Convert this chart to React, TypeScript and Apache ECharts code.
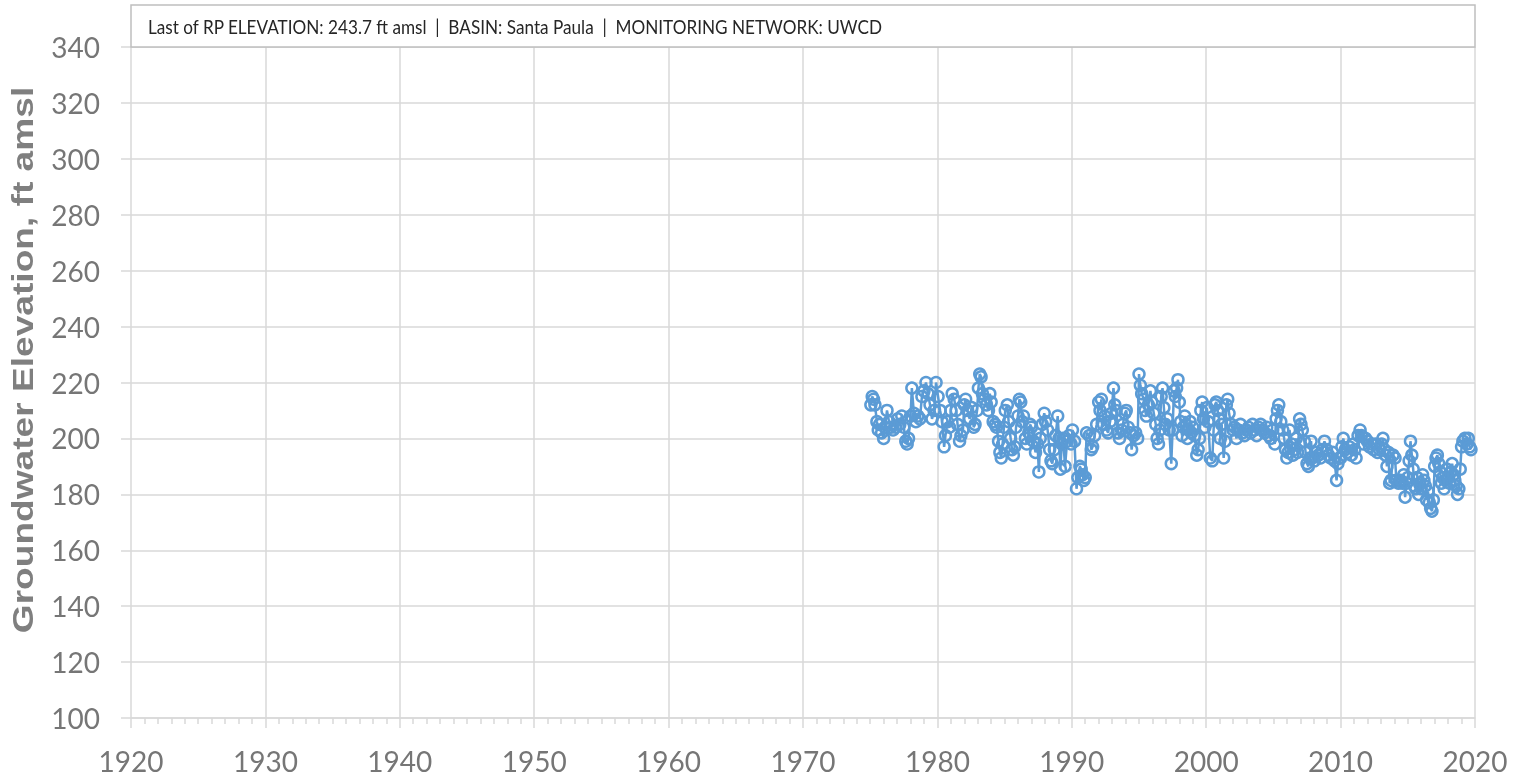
import React, { useEffect, useRef } from "react";
import * as echarts from "echarts";

const xTicks = [1920, 2020];
const yRange = [100, 340];

const dates1970s = [1975.05, 1975.15, 1975.25, 1975.35, 1975.5, 1975.6, 1975.7, 1975.85, 1976.0, 1976.1, 1976.25, 1976.4, 1976.55, 1976.7, 1976.9, 1977.05, 1977.2, 1977.35, 1977.5, 1977.65, 1977.75, 1977.85, 1978.0, 1978.1, 1978.25, 1978.4, 1978.55, 1978.7, 1978.85, 1979.0, 1979.15, 1979.3, 1979.45, 1979.6, 1979.75, 1979.9];
const levels1970s = [212, 215, 214, 212, 206, 203, 205, 202, 200, 204, 210, 206, 204, 203, 204, 207, 205, 208, 204, 199, 198, 200, 208, 218, 209, 206, 208, 207, 215, 217, 220, 216, 212, 207, 210, 220];

const dates1980s = [1980.05, 1980.2, 1980.35, 1980.5, 1980.6, 1980.75, 1980.9, 1981.0, 1981.1, 1981.25, 1981.4, 1981.5, 1981.65, 1981.75, 1981.9, 1982.0, 1982.1, 1982.25, 1982.4, 1982.55, 1982.7, 1982.8, 1982.95, 1983.05, 1983.15, 1983.25, 1983.35, 1983.5, 1983.65, 1983.8, 1983.9, 1984.0, 1984.15, 1984.3, 1984.4, 1984.55, 1984.65, 1984.75, 1984.85, 1984.95, 1985.05, 1985.2, 1985.3, 1985.45, 1985.55, 1985.65, 1985.75, 1985.85, 1986.0, 1986.1, 1986.2, 1986.3, 1986.4, 1986.55, 1986.65, 1986.8, 1986.9, 1987.0, 1987.15, 1987.3, 1987.45, 1987.55, 1987.65, 1987.8, 1987.95, 1988.05, 1988.2, 1988.35, 1988.45, 1988.55, 1988.7, 1988.8, 1988.95, 1989.05, 1989.15, 1989.25, 1989.35, 1989.5, 1989.65, 1989.8, 1989.95];
const levels1980s = [215, 210, 206, 197, 201, 206, 204, 210, 216, 214, 210, 205, 199, 201, 203, 212, 214, 210, 207, 211, 204, 205, 210, 218, 223, 222, 216, 214, 212, 210, 216, 213, 206, 205, 204, 199, 195, 193, 198, 204, 210, 212, 206, 200, 196, 194, 197, 204, 208, 214, 213, 206, 208, 200, 198, 202, 205, 204, 199, 195, 198, 188, 200, 205, 209, 206, 203, 196, 192, 191, 196, 201, 208, 200, 189, 198, 200, 190, 199, 201, 198];

const dates1990s = [1990.05, 1990.2, 1990.35, 1990.45, 1990.6, 1990.7, 1990.8, 1990.9, 1991.0, 1991.1, 1991.3, 1991.45, 1991.55, 1991.7, 1991.85, 1992.0, 1992.1, 1992.2, 1992.35, 1992.45, 1992.6, 1992.7, 1992.85, 1992.95, 1993.1, 1993.2, 1993.3, 1993.45, 1993.55, 1993.7, 1993.8, 1993.95, 1994.05, 1994.2, 1994.35, 1994.45, 1994.6, 1994.75, 1994.9, 1995.0, 1995.1, 1995.2, 1995.35, 1995.45, 1995.55, 1995.7, 1995.85, 1995.95, 1996.1, 1996.25, 1996.35, 1996.45, 1996.55, 1996.65, 1996.75, 1996.85, 1996.95, 1997.1, 1997.25, 1997.4, 1997.5, 1997.6, 1997.7, 1997.8, 1997.9, 1998.0, 1998.1, 1998.2, 1998.3, 1998.4, 1998.5, 1998.6, 1998.7, 1998.8, 1998.9, 1999.0, 1999.15, 1999.3, 1999.4, 1999.5, 1999.6, 1999.7, 1999.8, 1999.9];
const levels1990s = [203, 199, 182, 186, 190, 189, 187, 185, 186, 202, 201, 196, 197, 201, 205, 213, 210, 214, 205, 208, 203, 202, 206, 209, 218, 212, 210, 202, 200, 203, 205, 209, 210, 204, 202, 196, 201, 202, 200, 223, 219, 216, 214, 210, 208, 212, 217, 213, 209, 205, 200, 198, 203, 215, 218, 211, 205, 207, 203, 191, 203, 217, 215, 218, 221, 213, 206, 201, 204, 208, 205, 200, 203, 206, 202, 204, 201, 194, 196, 200, 210, 213, 207, 204];

const dates2000s = [2000.05, 2000.15, 2000.3, 2000.45, 2000.55, 2000.65, 2000.75, 2000.85, 2000.95, 2001.05, 2001.15, 2001.3, 2001.4, 2001.5, 2001.6, 2001.7, 2001.85, 2002.0, 2002.1, 2002.25, 2002.4, 2002.55, 2002.7, 2002.85, 2003.0, 2003.15, 2003.3, 2003.45, 2003.6, 2003.75, 2003.9, 2004.05, 2004.2, 2004.35, 2004.5, 2004.65, 2004.8, 2004.95, 2005.1, 2005.2, 2005.3, 2005.4, 2005.55, 2005.7, 2005.8, 2005.9, 2006.0, 2006.1, 2006.2, 2006.35, 2006.45, 2006.55, 2006.7, 2006.8, 2006.95, 2007.05, 2007.15, 2007.3, 2007.4, 2007.5, 2007.6, 2007.7, 2007.8, 2007.9, 2008.05, 2008.2, 2008.35, 2008.5, 2008.65, 2008.8, 2008.95, 2009.1, 2009.25, 2009.4, 2009.55, 2009.7, 2009.8, 2009.9];
const levels2000s = [211, 206, 193, 192, 203, 212, 213, 210, 207, 200, 205, 193, 199, 212, 214, 209, 205, 203, 204, 200, 203, 205, 202, 201, 203, 204, 202, 205, 203, 201, 204, 205, 203, 202, 204, 201, 200, 203, 198, 207, 210, 212, 206, 203, 200, 196, 193, 195, 203, 198, 194, 196, 200, 195, 207, 205, 203, 199, 195, 191, 190, 193, 199, 193, 192, 195, 194, 193, 196, 199, 196, 194, 193, 195, 192, 185, 191, 193];

const dates2010s = [2010.0, 2010.1, 2010.2, 2010.35, 2010.5, 2010.65, 2010.8, 2010.95, 2011.05, 2011.15, 2011.3, 2011.45, 2011.55, 2011.7, 2011.85, 2012.0, 2012.15, 2012.3, 2012.45, 2012.6, 2012.75, 2012.9, 2013.05, 2013.15, 2013.25, 2013.35, 2013.45, 2013.55, 2013.65, 2013.75, 2013.9, 2014.05, 2014.15, 2014.3, 2014.45, 2014.6, 2014.7, 2014.8, 2014.9, 2015.0, 2015.1, 2015.2, 2015.3, 2015.4, 2015.5, 2015.6, 2015.7, 2015.8, 2015.9, 2016.0, 2016.1, 2016.2, 2016.3, 2016.4, 2016.5, 2016.6, 2016.7, 2016.8, 2016.9, 2017.0, 2017.1, 2017.2, 2017.3, 2017.4, 2017.5, 2017.6, 2017.7, 2017.8, 2017.9, 2018.0, 2018.1, 2018.2, 2018.3, 2018.4, 2018.5, 2018.6, 2018.7, 2018.8, 2018.9, 2019.0, 2019.1, 2019.25, 2019.4, 2019.5, 2019.6, 2019.7];
const levels2010s = [193, 197, 200, 196, 195, 197, 194, 198, 196, 193, 201, 203, 201, 198, 200, 199, 197, 198, 196, 198, 195, 196, 198, 200, 196, 194, 190, 195, 184, 185, 194, 193, 185, 184, 185, 184, 187, 179, 184, 186, 192, 199, 194, 189, 183, 182, 186, 180, 184, 182, 187, 185, 183, 178, 181, 177, 175, 174, 178, 190, 193, 194, 191, 188, 184, 186, 182, 185, 189, 186, 184, 188, 191, 187, 185, 183, 180, 182, 189, 197, 199, 200, 198, 200, 197, 196];

const annotation = "Last of RP ELEVATION: 243.7 ft amsl  |  BASIN: Santa Paula  |  MONITORING NETWORK: UWCD";
const yAxisTitle = "Groundwater Elevation, ft amsl";

export default function App() {
  const ref = useRef<HTMLDivElement>(null);
  useEffect(() => {
    if (!ref.current) return;
    const chart = echarts.init(ref.current, undefined, { renderer: "svg" });
    const dates = [...dates1970s, ...dates1980s, ...dates1990s, ...dates2000s, ...dates2010s];
    const levels = [...levels1970s, ...levels1980s, ...levels1990s, ...levels2000s, ...levels2010s];
    const data = dates.map((d, i) => [d, levels[i]]);
    const blue = "#5b9bd5";
    const grid = "#d9d9d9";
    chart.setOption({
      animation: false,
      grid: { left: 131, right: 53, top: 47, bottom: 63, containLabel: false },
      xAxis: {
        type: "value",
        min: xTicks[0],
        max: xTicks[1],
        interval: 10,
        axisLine: { show: true, onZero: false, lineStyle: { color: grid, width: 1.5 } },
        axisTick: { show: true, inside: false, length: 10, lineStyle: { color: grid, width: 1.5 } },
        minorTick: { show: true, splitNumber: 10, length: 6, lineStyle: { color: grid, width: 1.5 } },
        splitLine: { show: true, lineStyle: { color: grid, width: 1.5 } },
        axisLabel: {
          color: "#767676",
          fontFamily: "Lato",
          fontSize: 28,
          margin: 29,
          formatter: (v: number) => String(v),
        },
      },
      yAxis: {
        type: "value",
        min: yRange[0],
        max: yRange[1],
        interval: 20,
        axisLine: { show: false },
        axisTick: { show: true, inside: false, length: 10, lineStyle: { color: grid, width: 1.5 } },
        splitLine: { show: true, lineStyle: { color: grid, width: 1.5 } },
        axisLabel: { color: "#767676", fontFamily: "Lato", fontSize: 28, margin: 31 },
      },
      graphic: [
        {
          type: "rect",
          shape: { x: 131, y: 5, width: 1344, height: 42 },
          style: { fill: "#ffffff", stroke: "#bfbfbf", lineWidth: 1.5 },
          z: 10,
        },
        {
          type: "text",
          x: 148,
          y: 27,
          z: 11,
          scaleX: 0.88,
          style: {
            text: annotation,
            fill: "#262626",
            font: "19.5px Lato",
            textAlign: "left",
            textVerticalAlign: "middle",
          },
        },
        {
          type: "text",
          x: 23,
          y: 360,
          rotation: Math.PI / 2,
          scaleX: 1.28,
          style: {
            text: yAxisTitle,
            fill: "#7f7f7f",
            font: "bold 29px 'Liberation Sans'",
            textAlign: "center",
            textVerticalAlign: "middle",
          },
        },
      ],
      series: [
        {
          type: "line",
          data,
          symbol: "circle",
          symbolSize: 11,
          showSymbol: true,
          showAllSymbol: true,
          lineStyle: { color: blue, width: 2.5 },
          itemStyle: { color: "rgba(255,255,255,0)", borderColor: blue, borderWidth: 2.5 },
          emphasis: { disabled: true },
        },
      ],
    });
    return () => chart.dispose();
  }, []);
  return <div ref={ref} style={{ position: "fixed", left: 0, top: 0, width: 1528, height: 781 }} />;
}
